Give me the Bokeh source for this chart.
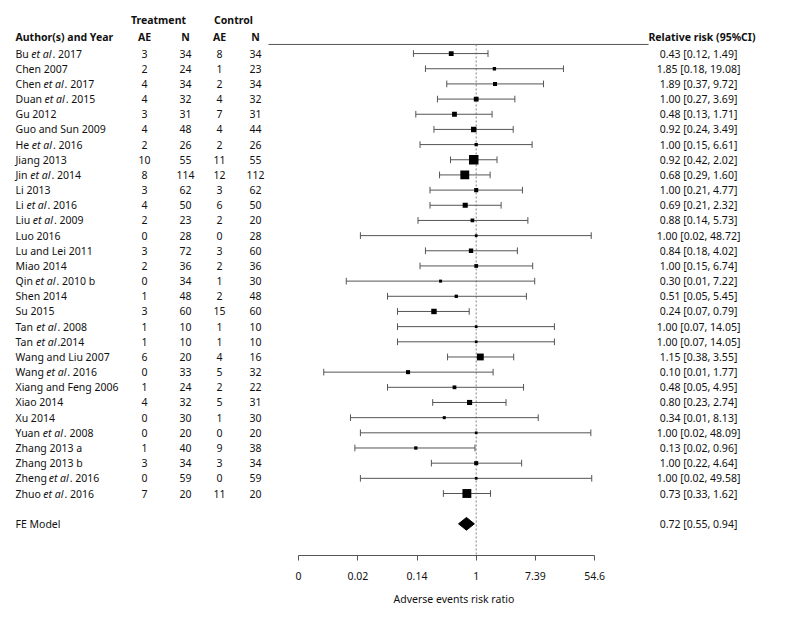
import math
from bokeh.plotting import figure
from bokeh.models import ColumnDataSource, Range1d, LinearAxis, FixedTicker, Title
from bokeh.core.properties import value
from bokeh.embed import file_html
from bokeh.resources import INLINE

# ---------------- data ----------------
studies = ["Bu et al. 2017", "Chen 2007", "Chen et al. 2017", "Duan et al. 2015", "Gu 2012",
           "Guo and Sun 2009", "He et al. 2016", "Jiang 2013", "Jin et al. 2014", "Li 2013",
           "Li et al. 2016", "Liu et al. 2009", "Luo 2016", "Lu and Lei 2011", "Miao 2014",
           "Qin et al. 2010 b", "Shen 2014", "Su 2015", "Tan et al. 2008", "Tan et al.2014",
           "Wang and Liu 2007", "Wang et al. 2016", "Xiang and Feng 2006", "Xiao 2014", "Xu 2014",
           "Yuan et al. 2008", "Zhang 2013 a", "Zhang 2013 b", "Zheng et al. 2016", "Zhuo et al. 2016"]
trt_ae = [3, 2, 4, 4, 3, 4, 2, 10, 8, 3, 4, 2, 0, 3, 2, 0, 1, 3, 1, 1, 6, 0, 1, 4, 0, 0, 1, 3, 0, 7]
trt_n = [34, 24, 34, 32, 31, 48, 26, 55, 114, 62, 50, 23, 28, 72, 36, 34, 48, 60, 10, 10, 20, 33, 24, 32, 30, 20, 40, 34, 59, 20]
ctl_ae = [8, 1, 2, 4, 7, 4, 2, 11, 12, 3, 6, 2, 0, 3, 2, 1, 2, 15, 1, 1, 4, 5, 2, 5, 1, 0, 9, 3, 0, 11]
ctl_n = [34, 23, 34, 32, 31, 44, 26, 55, 112, 62, 50, 20, 28, 60, 36, 30, 48, 60, 10, 10, 16, 32, 22, 31, 30, 20, 38, 34, 59, 20]
rr = [0.43, 1.85, 1.89, 1.00, 0.48, 0.92, 1.00, 0.92, 0.68, 1.00, 0.69, 0.88, 1.00, 0.84, 1.00,
      0.30, 0.51, 0.24, 1.00, 1.00, 1.15, 0.10, 0.48, 0.80, 0.34, 1.00, 0.13, 1.00, 1.00, 0.73]
ci_lo = [0.12, 0.18, 0.37, 0.27, 0.13, 0.24, 0.15, 0.42, 0.29, 0.21, 0.21, 0.14, 0.02, 0.18, 0.15,
         0.0124, 0.05, 0.07, 0.07, 0.07, 0.38, 0.0058, 0.05, 0.23, 0.0143, 0.02, 0.0166, 0.22, 0.02, 0.33]
ci_hi = [1.49, 19.08, 9.72, 3.69, 1.71, 3.49, 6.61, 2.02, 1.60, 4.77, 2.32, 5.73, 48.72, 4.02, 6.74,
         7.22, 5.45, 0.79, 14.05, 14.05, 3.55, 1.77, 4.95, 2.74, 8.13, 48.09, 0.96, 4.64, 49.58, 1.62]
weights = [3.7, 1.3, 2.5, 3.7, 3.7, 4.7, 1.3, 11.3, 10.3, 2.5, 4.2, 2.0, 0.3, 3.0, 2.0,
           0.8, 1.3, 4.7, 0.3, 0.3, 7.0, 2.5, 2.0, 4.2, 0.8, 0.3, 1.3, 2.5, 0.3, 10.3]
fe_label = "FE Model"
fe_rr, fe_lo, fe_hi = 0.72, 0.55, 0.94
tick_vals = [-6, -4, -2, 0, 2, 4]
tick_labels = ["0", "0.02", "0.14", "1", "7.39", "54.6"]
x_title = "Adverse events risk ratio"
col_headers = ["Author(s) and Year", "AE", "N", "AE", "N", "Relative risk (95%CI)"]
group_headers = ["Treatment", "Control"]

# ---------------- layout helpers ----------------
X0 = 475.7      # page px of log(RR)=0
SC = 29.6       # px per log unit
def px(x):
    return (x - X0) / SC

FONT = value("Noto Sans")
FS = value("10.5px")
TXT = "#111111"

# approximate glyph advance widths (em) for Noto Sans, used to place italic parts
W_REG = {" ": 0.26, "B": 0.635, "C": 0.617, "D": 0.722, "H": 0.738, "J": 0.28, "L": 0.525,
         "Q": 0.765, "T": 0.551, "W": 0.948, "Y": 0.552, "Z": 0.559, "a": 0.556, "e": 0.561,
         "g": 0.548, "h": 0.614, "i": 0.253, "l": 0.253, "n": 0.614, "o": 0.604, "u": 0.614, "t": 0.344}
W_IT = {" ": 0.26, "e": 0.54, "t": 0.35, "a": 0.59, "l": 0.27}
def width(s, table, size=10.5):
    return sum(table.get(c, 0.56) for c in s) * size

n = len(studies)
ys = [n - i for i in range(n)]
fe_y = -1

pre, ital, post, off_it, off_post = [], [], [], [], []
for s in studies:
    if "et al" in s:
        a, b = s.split("et al", 1)
        pre.append(a); ital.append("et al"); post.append(b)
        off_it.append(width(a, W_REG))
        off_post.append(width(a, W_REG) + width("et al", W_IT))
    else:
        pre.append(s); ital.append(""); post.append("")
        off_it.append(0.0); off_post.append(0.0)

lx = [math.log(v) for v in rr]
llo = [math.log(v) for v in ci_lo]
lhi = [math.log(v) for v in ci_hi]
wmin, wmax = min(weights), max(weights)
sizes = [2.7 + (w - wmin) / (wmax - wmin) * 6.8 for w in weights]
labels = [f"{a:.2f} [{b:.2f}, {c:.2f}]" for a, b, c in zip(rr, ci_lo, ci_hi)]

src = ColumnDataSource(dict(
    y=ys, lx=llo, hx=lhi, x=lx, size=sizes, ylo=[y - 0.22 for y in ys], yhi=[y + 0.22 for y in ys],
    pre=pre, ital=ital, post=post, off_it=off_it, off_post=off_post,
    tae=[str(v) for v in trt_ae], tn=[str(v) for v in trt_n],
    cae=[str(v) for v in ctl_ae], cn=[str(v) for v in ctl_n], lab=labels))

# ---------------- figure ----------------
W, H = 779, 616
ROW0, PITCH = 493.0, 15.17      # page px of row 1 and row spacing
AXIS_PX = 555.0
def py(y_page):
    return 1 - (y_page - ROW0) / PITCH
y_top = py(0)
y_bot = py(AXIS_PX)
p = figure(width=W, height=H, output_backend="svg", toolbar_location=None,
           x_range=Range1d(px(0), px(W)), y_range=Range1d(y_bot, y_top),
           x_axis_location=None, y_axis_location=None,
           min_border_left=0, min_border_right=0, min_border_top=0,
           min_border_bottom=int(H - AXIS_PX),
           outline_line_color=None, background_fill_color="white", border_fill_color="white")
p.grid.visible = False

line_y = 30.6
# header line and reference line
p.segment(x0=[px(268)], x1=[px(648)], y0=[line_y], y1=[line_y], line_color="#555555", line_width=1)
p.segment(x0=[0], x1=[0], y0=[line_y], y1=[y_bot], line_color="#808080", line_width=1, line_dash="2 2")

# confidence intervals
p.segment(x0="lx", x1="hx", y0="y", y1="y", source=src, line_color="#555555", line_width=1)
p.segment(x0="lx", x1="lx", y0="ylo", y1="yhi", source=src, line_color="#555555", line_width=1)
p.segment(x0="hx", x1="hx", y0="ylo", y1="yhi", source=src, line_color="#555555", line_width=1)
p.scatter(x="x", y="y", size="size", marker="square", source=src, fill_color="black", line_color=None)

# FE diamond
dh = 0.42
p.patch(x=[math.log(fe_lo), math.log(fe_rr), math.log(fe_hi), math.log(fe_rr)],
        y=[fe_y, fe_y + dh, fe_y, fe_y - dh], fill_color="black", line_color="black")

common = dict(text_font=FONT, text_font_size=FS, text_color=TXT, text_baseline="middle")
# study names
p.text(x=px(15), y="y", text="pre", source=src, text_align="left", **common)
p.text(x=px(15), y="y", text="ital", x_offset="off_it", source=src, text_align="left",
       text_font_style="italic", **common)
p.text(x=px(15), y="y", text="post", x_offset="off_post", source=src, text_align="left", **common)
# counts
p.text(x=px(144), y="y", text="tae", source=src, text_align="center", **common)
p.text(x=px(185), y="y", text="tn", source=src, text_align="center", **common)
p.text(x=px(219), y="y", text="cae", source=src, text_align="center", **common)
p.text(x=px(255), y="y", text="cn", source=src, text_align="center", **common)
# annotations
p.text(x=px(698), y="y", text="lab", source=src, text_align="center", **common)

# FE row
p.text(x=[px(15)], y=[fe_y], text=[fe_label], text_align="left", **common)
p.text(x=[px(698)], y=[fe_y], text=[f"{fe_rr:.2f} [{fe_lo:.2f}, {fe_hi:.2f}]"], text_align="center", **common)

# headers
hy = 31.06
p.text(x=[px(15)], y=[hy], text=[col_headers[0]], text_align="left", text_font_style="bold", **common)
p.text(x=[px(144), px(185), px(219), px(255)], y=[hy] * 4, text=col_headers[1:5],
       text_align="center", text_font_style="bold", **common)
p.text(x=[px(755)], y=[hy], text=[col_headers[5]], text_align="right", text_font_style="bold", **common)
p.text(x=[px(158), px(233)], y=[32.18] * 2, text=group_headers, text_align="center",
       text_font_style="bold", **common)

# x axis
ax = LinearAxis(ticker=FixedTicker(ticks=tick_vals), bounds=(tick_vals[0], tick_vals[-1]),
                major_label_overrides={v: l for v, l in zip(tick_vals, tick_labels)})
ax.axis_line_color = "#555555"
ax.major_tick_line_color = "#555555"
ax.minor_tick_line_color = None
ax.major_tick_out = 5
ax.major_tick_in = 0
ax.major_label_standoff = 11
ax.major_label_text_font = "Noto Sans"
ax.major_label_text_font_size = "10.5px"
ax.major_label_text_color = TXT
p.add_layout(ax, "below")

# axis title below the axis, shifted to sit under the interval region
p.add_layout(Title(text=x_title, align="left", offset=393, standoff=15,
                   text_font="Noto Sans", text_font_size="10.5px", text_font_style="normal",
                   text_color=TXT), "below")

open("out.html", "w").write(file_html(p, INLINE))
